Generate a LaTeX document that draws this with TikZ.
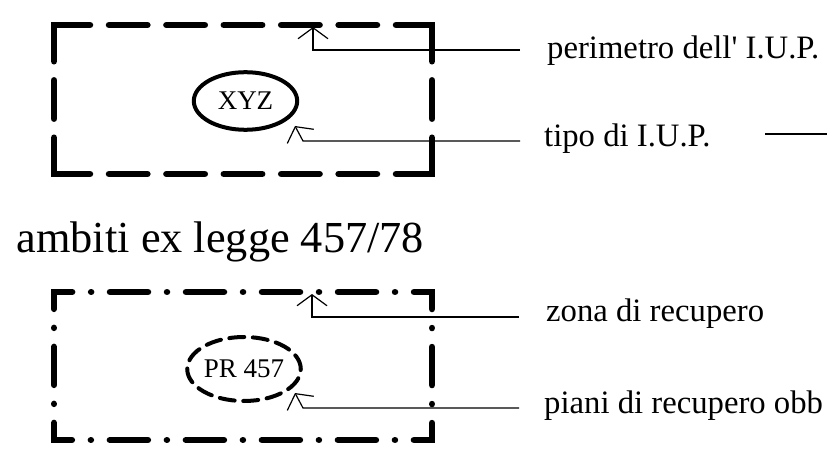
\documentclass[tikz,border=0pt]{standalone}
\usepackage{fontspec}
\setmainfont{Liberation Serif}[Ligatures=TeXOff]
\usetikzlibrary{arrows.meta,shapes.geometric}
\begin{document}
\begin{tikzpicture}[x=1pt,y=-1pt,
  lbl/.style={anchor=base west, inner sep=0pt, font=\fontsize{32.7}{36}\selectfont},
  title/.style={anchor=base west, inner sep=0pt, font=\fontsize{44.3}{48}\selectfont},
  lead/.style={line width=1.2pt, -{Straight Barb[length=11pt,width=30pt,line width=1.2pt]}},
  thinline/.style={line width=1.2pt},
  dashbox/.style={line width=6.5pt, line cap=round, line join=miter,
    dash pattern=on 38.4pt off 19pt on 38.4pt off 19pt on 38.4pt off 19pt on 38.4pt off 19pt on 38.4pt off 19pt on 72.3pt off 19pt on 38.4pt off 19pt on 72.3pt off 19pt},
  dotbox/.style={line width=6.5pt, line cap=round, line join=miter,
    dash pattern=on 38pt off 19pt on 0.01pt off 19pt on 38pt off 19pt on 0.01pt off 19pt on 38pt off 19pt on 0.01pt off 19pt on 38pt off 19pt on 0.01pt off 19pt on 35pt off 19pt on 0.01pt off 19pt on 38pt off 19pt on 0.01pt off 19pt on 35pt off 19pt on 0.01pt off 19pt},
  tag/.style={ellipse, inner sep=0pt, font=\fontsize{27}{28}\selectfont}
]
\useasboundingbox (0,0) rectangle (827,457);

% top box (perimetro I.U.P.)
\draw[dashbox] (109,25) -- (432,25) -- (432,174) -- (54,174) -- (54,25) -- cycle;
\node[tag, draw, line width=4pt, minimum width=103.4pt, minimum height=57.6pt] (xyz) at (245.5,101) {XYZ};

% labels top
\node[lbl] (perim) at (547,59) {perimetro dell' I.U.P.};
\node[lbl] (tipo) at (544,147) {tipo di I.U.P.};
\coordinate (t1s) at (520,50);
\coordinate (t1c) at (313,50);
\coordinate (t1e) at (313,27);
\draw[lead] (t1s) -- (t1c) -- (t1e);
\coordinate (t2s) at (520,141);
\coordinate (t2c) at (303,141);
\coordinate (t2e) at (295,126);
\draw[lead] (t2s) -- (t2c) -- (t2e);
\coordinate (r1) at (765,134);
\coordinate (r2) at (827,134);
\draw[thinline] (r1) -- (r2);

% title
\node[title] (amb) at (16.5,252) {ambiti ex legge 457/78};

% bottom box (zona di recupero)
\draw[dotbox] (110,292) -- (432,292) -- (432,440) -- (54,440) -- (54,292) -- cycle;
\node[tag, draw, line width=4pt, dash pattern=on 15pt off 8.6pt, line cap=round, minimum width=98pt, minimum height=64pt] (pr) at (244,369) {PR 457};

\node[lbl] (zona) at (546,321) {zona di recupero};
\node[lbl] (piani) at (544,413) {piani di recupero obb};
\coordinate (b1s) at (519,317);
\coordinate (b1c) at (312,317);
\coordinate (b1e) at (312,294);
\draw[lead] (b1s) -- (b1c) -- (b1e);
\coordinate (b2s) at (519,408);
\coordinate (b2c) at (303,408);
\coordinate (b2e) at (295,393);
\draw[lead] (b2s) -- (b2c) -- (b2e);
\end{tikzpicture}
\end{document}
